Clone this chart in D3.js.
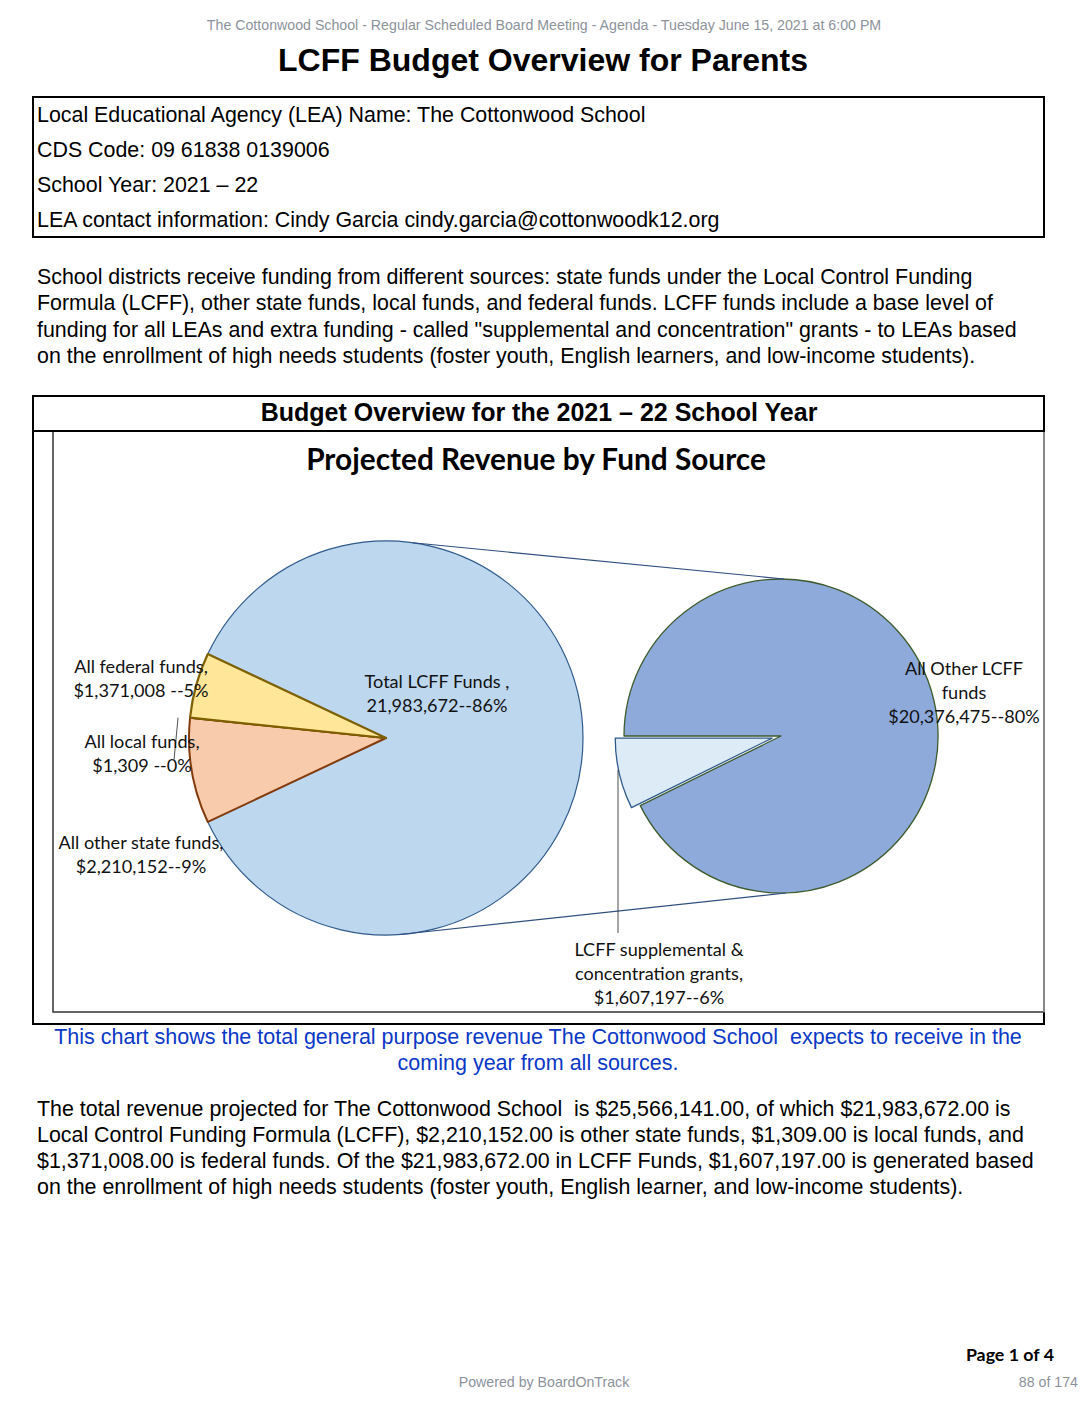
<!DOCTYPE html>
<html>
<head>
<meta charset="utf-8">
<script src="https://cdn.jsdelivr.net/npm/d3@7"></script>
<style>
  html, body { margin: 0; padding: 0; background: #fff; }
  svg { display: block; }
  text { white-space: pre; }
  .sans { font-family: "Liberation Sans", Arial, sans-serif; }
  .cal { font-family: Lato, "Open Sans", sans-serif; }
</style>
</head>
<body>
<div id="page"></div>
<script>
// Chart data
const mainLabels = ['Total LCFF Funds', 'All other state funds', 'All local funds', 'All federal funds'];
const mainValues = [21983672, 2210152, 1309, 1371008];
const subLabels = ['All Other LCFF funds', 'LCFF supplemental & concentration grants'];
const subValues = [20376475, 1607197];

// Page texts
const headerText = 'The Cottonwood School - Regular Scheduled Board Meeting - Agenda - Tuesday June 15, 2021 at 6:00 PM';
const pageTitle = 'LCFF Budget Overview for Parents';
const infoLines = [
  'Local Educational Agency (LEA) Name: The Cottonwood School',
  'CDS Code: 09 61838 0139006',
  'School Year: 2021 \u2013 22',
  'LEA contact information: Cindy Garcia cindy.garcia@cottonwoodk12.org'
];
const introLines = [
  'School districts receive funding from different sources: state funds under the Local Control Funding',
  'Formula (LCFF), other state funds, local funds, and federal funds. LCFF funds include a base level of',
  'funding for all LEAs and extra funding - called "supplemental and concentration" grants - to LEAs based',
  'on the enrollment of high needs students (foster youth, English learners, and low-income students).'
];
const boxTitle = 'Budget Overview for the 2021 \u2013 22 School Year';
const chartTitle = 'Projected Revenue by Fund Source';
const captionLines = [
  'This chart shows the total general purpose revenue The Cottonwood School  expects to receive in the',
  'coming year from all sources.'
];
const summaryLines = [
  'The total revenue projected for The Cottonwood School  is $25,566,141.00, of which $21,983,672.00 is',
  'Local Control Funding Formula (LCFF), $2,210,152.00 is other state funds, $1,309.00 is local funds, and',
  '$1,371,008.00 is federal funds. Of the $21,983,672.00 in LCFF Funds, $1,607,197.00 is generated based',
  'on the enrollment of high needs students (foster youth, English learner, and low-income students).'
];

const W = 1088, H = 1408;
const svg = d3.select('#page').append('svg').attr('width', W).attr('height', H);

const total = d3.sum(mainValues);
const fmtNum = d3.format(',');
const fmtPct = d3.format('.0%');

// ---- header ----
svg.append('text').attr('class', 'sans')
  .attr('x', 544).attr('y', 30).attr('text-anchor', 'middle')
  .attr('font-size', 14.2).attr('fill', '#8c929b')
  .text(headerText);

svg.append('text').attr('class', 'sans')
  .attr('x', 543).attr('y', 71).attr('text-anchor', 'middle')
  .attr('font-size', 32).attr('font-weight', 'bold').attr('fill', '#000')
  .text(pageTitle);

// info box
svg.append('rect').attr('x', 33).attr('y', 97).attr('width', 1011).attr('height', 140)
  .attr('fill', 'none').attr('stroke', '#000').attr('stroke-width', 2);
svg.append('g').selectAll('text').data(infoLines).join('text')
  .attr('class', 'sans')
  .attr('x', 37).attr('y', (d, i) => 122 + i * 35)
  .attr('font-size', 21.4).attr('fill', '#000')
  .text(d => d);

svg.append('g').selectAll('text').data(introLines).join('text')
  .attr('class', 'sans')
  .attr('x', 37).attr('y', (d, i) => 284 + i * 26.3)
  .attr('font-size', 21.4).attr('fill', '#000')
  .text(d => d);

// ---- chart box ----
svg.append('rect').attr('x', 33).attr('y', 396).attr('width', 1011).attr('height', 628)
  .attr('fill', 'none').attr('stroke', '#000').attr('stroke-width', 2);
svg.append('line').attr('x1', 33).attr('x2', 1044).attr('y1', 431).attr('y2', 431)
  .attr('stroke', '#000').attr('stroke-width', 2);
svg.append('text').attr('class', 'sans')
  .attr('x', 539).attr('y', 421).attr('text-anchor', 'middle')
  .attr('font-size', 25).attr('font-weight', 'bold')
  .text(boxTitle);

// inner chart area frame
svg.append('path')
  .attr('d', 'M1044,432 V1012 H53 V432')
  .attr('fill', 'none').attr('stroke', '#333').attr('stroke-width', 1.5);
svg.append('line').attr('x1', 1044).attr('x2', 1044).attr('y1', 432).attr('y2', 1012)
  .attr('stroke', '#aaa').attr('stroke-width', 1.5);

svg.append('text').attr('class', 'cal')
  .attr('x', 536).attr('y', 470).attr('text-anchor', 'middle')
  .attr('font-size', 29.8).attr('font-weight', 'bold')
  .text(chartTitle);

// ---- pie of pie ----
const big = { cx: 386, cy: 738, r: 197 };
const small = { cx: 781, cy: 736, r: 157 };

const mainFill = ['#bdd7ee', '#f8cbad', '#f8cbad', '#ffe699'];
const mainStroke = ['#2f5b8c', '#843c0c', '#843c0c', '#7f6000'];
const mainStrokeW = [1.2, 2, 2, 2.2];

const lcffFrac = mainValues[0] / total;
const bigPie = d3.pie().sort(null)
  .startAngle(Math.PI / 2 - lcffFrac * Math.PI)
  .endAngle(Math.PI / 2 - lcffFrac * Math.PI + 2 * Math.PI);
const bigArcs = bigPie(mainValues);
const bigArc = d3.arc().innerRadius(0).outerRadius(big.r);

const gBig = svg.append('g').attr('transform', `translate(${big.cx},${big.cy})`);
gBig.selectAll('path').data(bigArcs).join('path')
  .attr('d', bigArc)
  .attr('fill', (d, i) => mainFill[i])
  .attr('stroke', (d, i) => mainStroke[i])
  .attr('stroke-width', (d, i) => mainStrokeW[i])
  .attr('stroke-linejoin', 'round');

// secondary pie
const subPie = d3.pie().sort(null)
  .startAngle(-Math.PI / 2)
  .endAngle(-Math.PI / 2 + 2 * Math.PI);
const subArcs = subPie(subValues);
const subArc = d3.arc().innerRadius(0).outerRadius(small.r);
const subFill = ['#8eaadb', '#ddebf7'];
const subStroke = ['#3d5b2c', '#2f5b8c'];
const explode = 9;

const gSmall = svg.append('g').attr('transform', `translate(${small.cx},${small.cy})`);
gSmall.selectAll('path').data(subArcs).join('path')
  .attr('d', subArc)
  .attr('transform', (d, i) => {
    if (i === 0) return null;
    const a = (d.startAngle + d.endAngle) / 2;
    return `translate(${explode * Math.sin(a)},${-explode * Math.cos(a)})`;
  })
  .attr('fill', (d, i) => subFill[i])
  .attr('stroke', (d, i) => subStroke[i])
  .attr('stroke-width', 1.3)
  .attr('stroke-linejoin', 'round');

// connector lines between the pies
const topA = 0.136, botA = Math.PI - 0.07;
const conn = [
  [[big.cx + big.r * Math.sin(topA), big.cy - big.r * Math.cos(topA)], [small.cx + 3, small.cy - small.r]],
  [[big.cx + big.r * Math.sin(botA), big.cy - big.r * Math.cos(botA)], [small.cx + 5, small.cy + small.r]]
];
svg.append('g').selectAll('line').data(conn).join('line')
  .attr('x1', d => d[0][0]).attr('y1', d => d[0][1])
  .attr('x2', d => d[1][0]).attr('y2', d => d[1][1])
  .attr('stroke', '#2f4f7f').attr('stroke-width', 1.1);

// ---- data labels ----
const valueLine = (v, dollar, sep) => `${dollar ? '$' : ''}${fmtNum(v)}${sep}${fmtPct(v / total)}`;

const labels = [
  { x: big.cx + 51, y: 688, lines: [`${mainLabels[0]} ,`, valueLine(mainValues[0], false, '--')] },
  { x: 141, y: 849, lines: [`${mainLabels[1]},`, valueLine(mainValues[1], true, '--')] },
  { x: 142, y: 748, lines: [`${mainLabels[2]},`, valueLine(mainValues[2], true, ' --')] },
  { x: 141, y: 673, lines: [`${mainLabels[3]},`, valueLine(mainValues[3], true, ' --')] },
  { x: 964, y: 675, lines: ['All Other LCFF', 'funds', valueLine(subValues[0], true, '--')] },
  { x: 659, y: 956, lines: ['LCFF supplemental &', 'concentration grants,', valueLine(subValues[1], true, '--')] }
];

// leader lines
const localArc = bigArcs[2];
const la = (localArc.startAngle + localArc.endAngle) / 2;
svg.append('path')
  .attr('d', `M${big.cx + big.r * Math.sin(la) - 12},${big.cy - big.r * Math.cos(la)} L${big.cx + big.r * Math.sin(la) - 16},${big.cy - big.r * Math.cos(la) + 42}`)
  .attr('fill', 'none').attr('stroke', '#222').attr('stroke-width', 0.8);
svg.append('line')
  .attr('x1', 618).attr('x2', 618).attr('y1', 770).attr('y2', 933)
  .attr('stroke', '#222').attr('stroke-width', 0.8);

const lg = svg.append('g');
labels.forEach(l => {
  const t = lg.append('text').attr('class', 'cal')
    .attr('text-anchor', 'middle').attr('font-size', 18.1).attr('fill', '#111');
  l.lines.forEach((s, i) => {
    t.append('tspan').attr('x', l.x).attr('y', l.y + i * 24).text(s);
  });
});

// ---- caption & summary ----
svg.append('g').selectAll('text').data(captionLines).join('text')
  .attr('class', 'sans')
  .attr('x', 538).attr('y', (d, i) => 1044 + i * 26)
  .attr('text-anchor', 'middle')
  .attr('font-size', 21.5).attr('fill', '#0a38c7')
  .text(d => d);

svg.append('g').selectAll('text').data(summaryLines).join('text')
  .attr('class', 'sans')
  .attr('x', 37).attr('y', (d, i) => 1116 + i * 26)
  .attr('font-size', 21.4).attr('fill', '#000')
  .text(d => d);

// ---- footer ----
svg.append('text').attr('class', 'cal')
  .attr('x', 1054).attr('y', 1361).attr('text-anchor', 'end')
  .attr('font-size', 17.8).attr('font-weight', 'bold')
  .text('Page 1 of 4');
svg.append('text').attr('class', 'sans')
  .attr('x', 544).attr('y', 1387).attr('text-anchor', 'middle')
  .attr('font-size', 14.2).attr('fill', '#8c929b')
  .text('Powered by BoardOnTrack');
svg.append('text').attr('class', 'sans')
  .attr('x', 1078).attr('y', 1387).attr('text-anchor', 'end')
  .attr('font-size', 14.2).attr('fill', '#8c929b')
  .text('88 of 174');
</script>
</body>
</html>
